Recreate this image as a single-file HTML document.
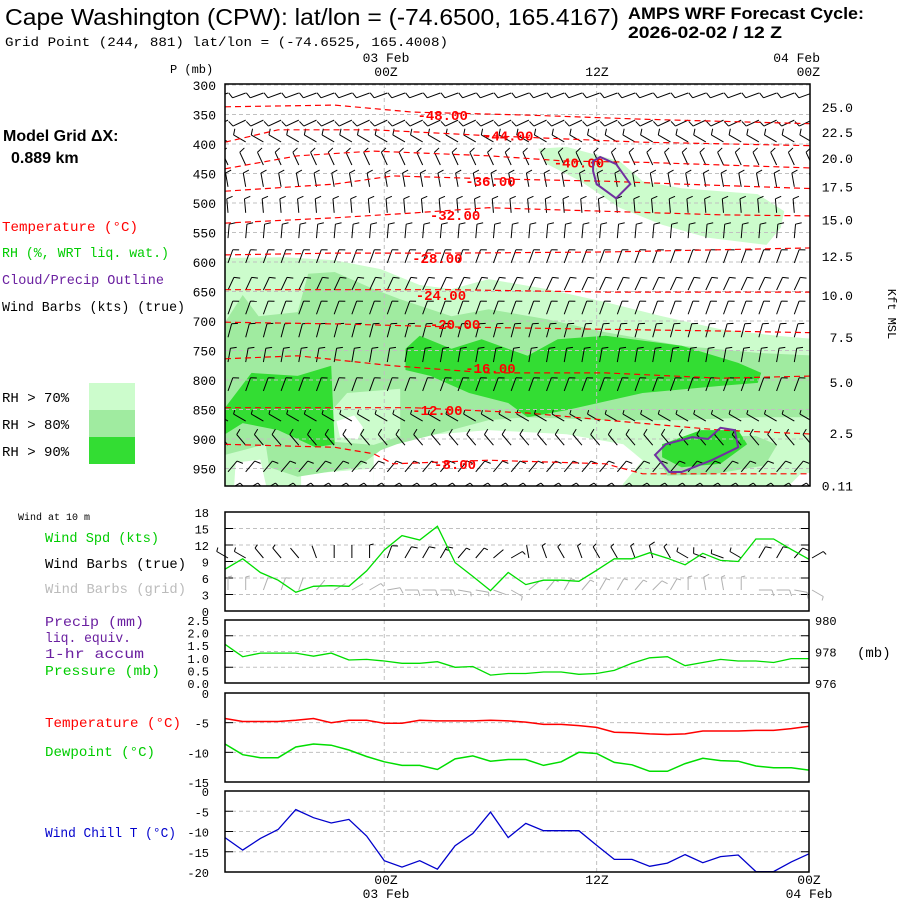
<!DOCTYPE html>
<html><head><meta charset="utf-8">
<style>
html,body{margin:0;padding:0;background:#fff;}
svg{display:block;}
text{font-family:"Liberation Mono",monospace;}
.sans{font-family:"Liberation Sans",sans-serif;}
</style></head>
<body>
<svg id="chart" width="900" height="900" viewBox="0 0 900 900" xmlns="http://www.w3.org/2000/svg">
  <rect x="0" y="0" width="900" height="900" fill="#fff"/>
  <text class="sans" x="5" y="25" font-size="23" textLength="614" lengthAdjust="spacingAndGlyphs">Cape Washington (CPW):  lat/lon = (-74.6500, 165.4167)</text>
  <text class="sans" x="628" y="19" font-size="17" font-weight="bold" textLength="236" lengthAdjust="spacingAndGlyphs">AMPS WRF Forecast Cycle:</text>
  <text class="sans" x="628" y="38" font-size="17" font-weight="bold" textLength="154" lengthAdjust="spacingAndGlyphs">2026-02-02 / 12  Z</text>
  <text x="5" y="46" font-size="13" textLength="443" lengthAdjust="spacingAndGlyphs">Grid Point (244, 881) lat/lon = (-74.6525, 165.4008)</text>

  <text x="170" y="73" font-size="12">P (mb)</text>
  <text x="386" y="62" font-size="13" text-anchor="middle">03 Feb</text>
  <text x="386" y="76" font-size="13" text-anchor="middle">00Z</text>
  <text x="597" y="76" font-size="13" text-anchor="middle">12Z</text>
  <text x="820" y="62" font-size="13" text-anchor="end">04 Feb</text>
  <text x="820" y="76" font-size="13" text-anchor="end">00Z</text>

  <text class="sans" x="3" y="141" font-size="16" font-weight="bold">Model Grid ΔX:</text>
  <text class="sans" x="11" y="163" font-size="16" font-weight="bold">0.889 km</text>
  <text x="2" y="231" font-size="14" fill="#ff0000" textLength="136" lengthAdjust="spacingAndGlyphs">Temperature (°C)</text>
  <text x="2" y="257" font-size="14" fill="#00cc00" textLength="167" lengthAdjust="spacingAndGlyphs">RH (%, WRT liq. wat.)</text>
  <text x="2" y="284" font-size="14" fill="#6a1fa0" textLength="162" lengthAdjust="spacingAndGlyphs">Cloud/Precip Outline</text>
  <text x="2" y="311" font-size="14" fill="#000" textLength="183" lengthAdjust="spacingAndGlyphs">Wind Barbs (kts) (true)</text>
  <text x="2" y="402" font-size="14">RH &gt; 70%</text>
  <text x="2" y="429" font-size="14">RH &gt; 80%</text>
  <text x="2" y="456" font-size="14">RH &gt; 90%</text>
  <rect x="89" y="383" width="46" height="27" fill="#ccfccc"/>
  <rect x="89" y="410" width="46" height="27" fill="#a0eba0"/>
  <rect x="89" y="437" width="46" height="27" fill="#33dd33"/>

  <text x="888" y="314" font-size="12" transform="rotate(90 888 314)" text-anchor="middle">Kft MSL</text>

  <text x="18" y="520" font-size="10">Wind at 10 m</text>
  <text x="45" y="542" font-size="14" fill="#00cc00" textLength="114" lengthAdjust="spacingAndGlyphs">Wind Spd (kts)</text>
  <text x="45" y="568" font-size="14" fill="#000" textLength="141" lengthAdjust="spacingAndGlyphs">Wind Barbs (true)</text>
  <text x="45" y="593" font-size="14" fill="#bbbbbb" textLength="141" lengthAdjust="spacingAndGlyphs">Wind Barbs (grid)</text>
  <text x="45" y="626" font-size="14" fill="#6a1fa0" textLength="99" lengthAdjust="spacingAndGlyphs">Precip (mm)</text>
  <text x="45" y="642" font-size="14" fill="#6a1fa0" textLength="86" lengthAdjust="spacingAndGlyphs">liq. equiv.</text>
  <text x="45" y="658" font-size="14" fill="#6a1fa0" textLength="99" lengthAdjust="spacingAndGlyphs">1-hr accum</text>
  <text x="45" y="675" font-size="14" fill="#00cc00" textLength="115" lengthAdjust="spacingAndGlyphs">Pressure (mb)</text>
  <text x="857" y="657" font-size="14">(mb)</text>
  <text x="45" y="727" font-size="14" fill="#ff0000" textLength="136" lengthAdjust="spacingAndGlyphs">Temperature (°C)</text>
  <text x="45" y="756" font-size="14" fill="#00cc00" textLength="110" lengthAdjust="spacingAndGlyphs">Dewpoint (°C)</text>
  <text x="45" y="837" font-size="14" fill="#0000cc" textLength="131" lengthAdjust="spacingAndGlyphs">Wind Chill T (°C)</text>

  <text x="386" y="884" font-size="13" text-anchor="middle">00Z</text>
  <text x="386" y="898" font-size="13" text-anchor="middle">03 Feb</text>
  <text x="597" y="884" font-size="13" text-anchor="middle">12Z</text>
  <text x="809" y="884" font-size="13" text-anchor="middle">00Z</text>
  <text x="809" y="898" font-size="13" text-anchor="middle">04 Feb</text>

  <defs><clipPath id="mainclip"><rect x="225" y="84" width="585" height="402"/></clipPath></defs>
  <g id="main" clip-path="url(#mainclip)"></g>
  <g id="mainframe"></g>
  <g id="lower"></g>
</svg>
<script>
// ---------- data ----------
const pTicks = [300,350,400,450,500,550,600,650,700,750,800,850,900,950];
const kftLabels = ["25.0","22.5","20.0","17.5","15.0","12.5","10.0","7.5","5.0","2.5","0.11"];
const kftP = [337,380,424,472,528,590,656,727,803,890,979];
const rh70Upper = [[17.7,408],[19.3,405],[22.3,429],[23.6,463],[25.8,475],[30.1,485],[31.6,514],[31.4,542],[30.6,571],[27.3,559],[24.7,537],[22.3,508],[20.1,463],[18.2,434]];
const rh70Lower = [[0,593],[3.4,592],[6.2,597],[8.8,612],[11,639],[12.8,646],[14.9,629],[18.2,646],[21.5,668],[24.7,692],[28,714],[31.2,725],[33.5,731],[33.5,990],[0,990]];
const whiteBottom = [[8.4,990],[8.4,925],[9.9,897],[14.9,885],[19.3,892],[22.5,909],[23.6,936],[22.5,976],[22.3,990]];
const whiteBottomLeft = [[4.3,990],[4.3,960],[8.4,950],[8.4,990]];
const whiteCorner = [[0.5,990],[0.6,940],[2,935],[2.4,990]];
const whiteRight = [[31.5,990],[32.5,960],[33.5,955],[33.5,990]];
const rh80 = [[0,702],[1,656],[1.9,692],[4.1,685],[4.7,620],[6.2,617],[8.4,646],[9.9,663],[12.8,692],[14.9,680],[18.2,697],[21.5,719],[25.8,742],[30.1,754],[33.5,759],[33.5,863],[30.1,863],[25.8,868],[21.5,868],[17.1,863],[14.9,868],[11.9,892],[9.7,909],[8.8,919],[7.5,948],[4.1,964],[2.5,948],[2.3,909],[1,919],[0,927]];
const rh80Right = [[24.3,925],[25,905],[27.3,895],[30,895],[31.2,910],[30.5,945],[27.5,960],[25,962]];
const rh70Hole = [[6.9,822],[9.9,815],[9.9,895],[8.4,910],[6.2,905],[5.8,860]];
const whiteHole = [[6.3,870],[7.3,860],[7.8,880],[7.5,900],[6.5,897]];
const rh90a = [[0,847],[1.5,788],[4.1,793],[6,776],[6.2,909],[5.1,914],[3,885],[1,873],[0,892]];
const rh90b = [[10.2,747],[11,725],[12.8,747],[14.5,731],[17.1,759],[18.8,731],[21.5,725],[25.8,742],[29,771],[30.3,788],[30.1,805],[28,810],[23.6,822],[19.3,851],[17.1,863],[16,839],[13.8,822],[11.6,793],[10.2,783]];
const rh90c = [[24.7,909],[26.9,885],[29,885],[29.5,909],[28,942],[25.8,948],[24.7,931]];
const cloudTop = [[20.8,429],[21.2,422],[22.1,434],[22.9,468],[22.1,492],[21,468],[20.8,446]];
const cloudLow = [[24.3,927],[24.9,909],[26.4,897],[27.3,900],[28,881],[28.8,885],[29,914],[27.5,936],[25.8,956],[25.1,956],[24.3,927]];
const tempLevels = [-48,-44,-40,-36,-32,-28,-24,-20,-16,-12,-8];
const tempLines = [
 [[0,337],[6.2,334],[10.6,346],[17.1,351],[23.6,358],[33.5,366]],
 [[0,397],[3,376],[8.4,376],[14.9,386],[23.6,397],[33.5,403]],
 [[0,442],[4.1,420],[8.4,412],[14.9,420],[19.3,429],[23.6,431],[33.5,441]],
 [[0,480],[6.2,468],[9.5,454],[14.9,459],[21.5,463],[25.8,468],[33.5,476]],
 [[0,534],[6.2,525],[10.6,517],[14.9,508],[21.5,514],[28,520],[33.5,522]],
 [[0,588],[6.2,585],[12.8,585],[21.5,583],[33.5,576]],
 [[0,647],[6.2,647],[12.8,647],[21.5,651],[33.5,651]],
 [[0,702],[6.2,705],[12.8,710],[21.5,714],[28,717],[33.5,720]],
 [[0,764],[4.1,759],[9.5,776],[14.9,788],[21.5,788],[28,797],[33.5,793]],
 [[0,847],[6.2,847],[10.6,847],[17.1,856],[21.5,868],[28,885],[33.5,892]],
 [[0,909],[6.2,914],[8.4,925],[9.5,942],[14.9,936],[21.5,942],[23.6,959],[33.5,959]]
];
const tempLabelPos = [[12.3,351],[16,386],[20,431],[15,463],[13,520],[12,593],[12.2,656],[13,705],[15,780],[12,851],[13,942]];
const barbP = [300,346,383,422,459,503,546,588,634,675,714,756,805,856,897,942,973];
const barbDir = [250,245,300,335,350,355,5,20,25,20,15,10,20,300,320,40,60];
const barbSpd = [10,10,10,10,10,10,10,10,10,10,10,10,10,5,10,10,5];
const windSpd = [7.6,9.5,7,5.6,3.4,4.5,4.6,4.5,7.3,11.1,13.7,12.9,15.4,8.8,6.3,3.7,7,4.8,5.6,5.6,5.4,7.4,9.5,9.5,10.6,9.6,8.4,10.5,9.2,9,13.1,13.1,11.2,9.4];
const windDir = [300,300,320,320,320,340,0,0,0,20,30,30,30,40,40,50,60,350,340,330,340,330,330,340,345,330,300,290,290,300,30,30,40,60];
const pres = [978.46,977.67,977.9,977.9,977.9,977.7,977.9,977.46,977.5,977.4,977.25,977.25,977.35,977.0,977.05,976.5,976.6,976.6,976.7,976.7,976.55,976.6,976.8,977.25,977.6,977.67,977.1,977.3,977.5,977.4,977.4,977.3,977.55,977.55];
const tempC = [-4.3,-4.8,-4.8,-4.8,-4.6,-4.3,-5.0,-4.6,-4.6,-5.1,-5.1,-4.6,-4.7,-4.7,-4.7,-4.6,-4.7,-4.9,-5.3,-5.3,-5.5,-5.8,-6.6,-6.7,-6.9,-7.0,-6.9,-6.4,-6.4,-6.4,-6.3,-6.3,-6.0,-5.6];
const dewC = [-8.6,-10.4,-10.9,-10.9,-9.1,-8.6,-8.8,-9.6,-10.7,-11.6,-12.2,-12.2,-12.9,-11.1,-10.6,-11.5,-11.2,-11.2,-12.2,-11.6,-10.0,-10.2,-11.7,-12.1,-13.2,-13.2,-11.9,-11.0,-11.4,-11.5,-12.3,-12.6,-12.6,-13.0];
const chillC = [-11.5,-14.6,-11.7,-9.5,-4.6,-6.6,-7.9,-7.0,-11.1,-17.2,-18.8,-17.2,-19.3,-13.5,-10.5,-5.2,-11.5,-8.0,-9.8,-9.8,-9.8,-13.4,-16.9,-16.9,-18.6,-17.8,-15.7,-17.7,-16.2,-15.8,-19.9,-19.9,-17.5,-15.5];
const windTicks = [0,3,6,9,12,15,18];
const precipTicks = ["0.0","0.5","1.0","1.5","2.0","2.5"];
const presTicks = [976,978,980];
const tempTicks = [0,-5,-10,-15];
const chillTicks = [0,-5,-10,-15,-20];

// ---------- scales ----------
const X0 = 225, X1 = 809;
function X(h){ return X0 + h*(X1-X0)/33; }
function PY(p){ return 85 + (p-300)*0.59; }
const NS = "http://www.w3.org/2000/svg";
function mk(tag, attrs, parent){ const e=document.createElementNS(NS,tag); for(const k in attrs) e.setAttribute(k,attrs[k]); parent.appendChild(e); return e; }
function ptsStr(arr, fx, fy){ return arr.map(d=>fx(d[0]).toFixed(1)+","+fy(d[1]).toFixed(1)).join(" "); }
const main = document.getElementById("main");
const frame = document.getElementById("mainframe");
const lower = document.getElementById("lower");

function poly(arr, fill, name){
  const e = mk("polygon",{points:ptsStr(arr,X,PY),fill:fill},main);
  
  
}
poly(rh70Upper,"#ccfccc","rh70-upper-region");
poly(rh70Lower,"#ccfccc","rh70-lower-region");
poly(whiteBottom,"#ffffff","rh-dry-bottom");
poly(whiteBottomLeft,"#ffffff","rh-dry-bottom-left");
poly(whiteCorner,"#ffffff","rh-dry-corner");
poly(whiteRight,"#ffffff","rh-dry-right");
poly(rh80,"#a0eba0","rh80-region");
poly(rh80Right,"#a0eba0","rh80-right-region");
poly(rh70Hole,"#ccfccc","rh70-pocket");
poly(whiteHole,"#ffffff","rh-dry-pocket");
poly(rh90a,"#33dd33","rh90-left-region");
poly(rh90b,"#33dd33","rh90-main-region");
poly(rh90c,"#33dd33","rh90-right-region");

pTicks.forEach(p=>{
  const l = mk("line",{x1:X0,x2:X1,y1:PY(p),y2:PY(p),stroke:"#c0c0c0","stroke-dasharray":"4,3","stroke-width":1},main);
  
  
});
[9,21].forEach(h=>{
  const l = mk("line",{x1:X(h),x2:X(h),y1:84,y2:486,stroke:"#c0c0c0","stroke-dasharray":"4,3"},main);
  
  
});

// barbs
function barb(parent,x,y,dir,spd,color,L){
  const g = mk("g",{stroke:color,"stroke-width":1,fill:"none"},parent);
  
  
  const r = dir*Math.PI/180;
  const ux=Math.sin(r), uy=-Math.cos(r);
  const ex=x+L*ux, ey=y+L*uy;
  mk("line",{x1:x,y1:y,x2:ex,y2:ey},g);
  let s=spd, k=0;
  const px=-uy, py=ux;
  while(s>=10){ const bx=ex-ux*k*3, by=ey-uy*k*3; mk("line",{x1:bx,y1:by,x2:bx+px*6+ux*2,y2:by+py*6+uy*2},g); s-=10;k++; }
  if(s>=5){ const bx=ex-ux*k*3, by=ey-uy*k*3; mk("line",{x1:bx,y1:by,x2:bx+px*4+ux*1,y2:by+py*4+uy*1},g); }
}
barbP.forEach((p,i)=>{
  for(let h=0;h<=33;h++){
    barb(main,X(h)+3,PY(p)+8,barbDir[i],barbSpd[i],"#000",14);
  }
});

// temperature contours
tempLines.forEach((ln,i)=>{
  const e = mk("polyline",{points:ptsStr(ln,X,PY),fill:"none",stroke:"#ff0000","stroke-width":1.2,"stroke-dasharray":"6,4"},main);
  
  
  const t = mk("text",{x:X(tempLabelPos[i][0]),y:PY(tempLabelPos[i][1])+5,"font-size":14,"font-weight":"bold",fill:"#ff0000","font-family":"Liberation Sans, sans-serif","text-anchor":"middle"},main);
  t.textContent = tempLevels[i].toFixed(2);
  
  
});

[cloudTop, cloudLow].forEach(c=>{
  const e = mk("polygon",{points:ptsStr(c,X,PY),fill:"none",stroke:"#7030a0","stroke-width":2},main);
  
  
});

const fr = mk("rect",{x:225,y:84,width:585,height:402,fill:"none",stroke:"#000","stroke-width":1.5},frame);


pTicks.forEach(p=>{
  const t = mk("text",{x:216,y:PY(p)+5,"font-size":13,"text-anchor":"end"},frame);
  t.textContent = p;
  
  
});
kftLabels.forEach((lab,i)=>{
  const t = mk("text",{x:853,y:PY(kftP[i])+5,"font-size":13,"text-anchor":"end"},frame);
  t.textContent = lab;
  
  
});

// ---------- lower panels ----------
function panel(name, top, bottom, vmin, vmax, ticks, tickLabels){
  const Y = v => bottom - (v-vmin)/(vmax-vmin)*(bottom-top);
  ticks.forEach((v,i)=>{
    if(v>vmin && v<vmax){
      const l = mk("line",{x1:X0,x2:X1,y1:Y(v),y2:Y(v),stroke:"#c0c0c0","stroke-dasharray":"4,3"},lower);
      
      
    }
    const tk = mk("line",{x1:X0,x2:X0+8,y1:Y(v),y2:Y(v),stroke:"#000"},lower);
    
    
    const tk2 = mk("line",{x1:X1-8,x2:X1,y1:Y(v),y2:Y(v),stroke:"#000"},lower);
    
    
    if(tickLabels){
      const t = mk("text",{x:209,y:Y(v)+5,"font-size":12,"text-anchor":"end"},lower);
      t.textContent = tickLabels[i];
      
      
    }
  });
  [9,21].forEach(h=>{
    const l = mk("line",{x1:X(h),x2:X(h),y1:top,y2:bottom,stroke:"#c0c0c0","stroke-dasharray":"4,3"},lower);
    
    
  });
  return Y;
}
function series(vals, Y, color, name, w){
  const e = mk("polyline",{points:vals.map((v,i)=>X(i).toFixed(1)+","+Y(v).toFixed(1)).join(" "),fill:"none",stroke:color,"stroke-width":w||1.3},lower);
  
  
}
function frameRect(name, top, bottom){
  const r = mk("rect",{x:X0,y:top,width:X1-X0,height:bottom-top,fill:"none",stroke:"#000","stroke-width":1.5},lower);
  
  
}

const YW = panel("wind-speed",512,611,0,18,windTicks,windTicks.map(String));
windDir.forEach((d,i)=>{
  barb(lower,X(i)+3,558,d,windSpd[i],"#000",13);
  barb(lower,X(i)+3,590,(d+60)%360,windSpd[i],"#b0b0b0",13);
});
series(windSpd, YW, "#00dd00", "wind-speed-line");
frameRect("wind-speed",512,611);

const YP = panel("pressure",620,683,976,980,[976,977,978,979,980],null);
precipTicks.forEach((lab,i)=>{
  const y = 683 - i*(63/5);
  const t = mk("text",{x:209,y:y+5,"font-size":12,"text-anchor":"end"},lower);
  t.textContent = lab;
  
  
});
presTicks.forEach(v=>{
  const t = mk("text",{x:815,y:YP(v)+5,"font-size":12},lower);
  t.textContent = v;
  
  
});
series(pres, YP, "#00dd00", "pressure-line");
frameRect("pressure",620,683);

const YT = panel("temperature",693,782,-15,0,tempTicks,tempTicks.map(String));
series(tempC, YT, "#ff0000", "temperature-line", 1.5);
series(dewC, YT, "#00dd00", "dewpoint-line", 1.5);
frameRect("temperature",693,782);

const YC = panel("wind-chill",791,872,-20,0,chillTicks,chillTicks.map(String));
series(chillC, YC, "#0000cc", "wind-chill-line");
frameRect("wind-chill",791,872);
</script>
</body></html>
